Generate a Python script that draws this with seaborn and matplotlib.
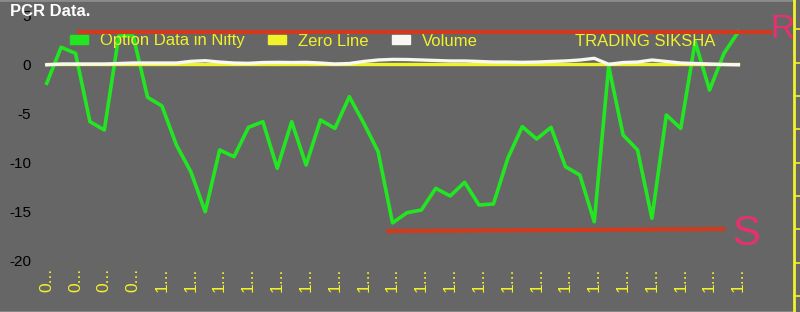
import numpy as np
import pandas as pd
import matplotlib
matplotlib.use("Agg")
import matplotlib.pyplot as plt
from matplotlib.patches import Patch
import seaborn as sns

# ---------------- data ----------------
pcr = [-1.94, 1.74, 1.12, -5.86, -6.71, 2.9, 2.9, -3.37, -4.26, -8.24,
       -10.97, -15.06, -8.75, -9.44, -6.44, -5.86, -10.62, -5.86, -10.29, -5.69,
       -6.54, -3.31, -6.0, -8.93, -16.2, -15.16, -14.88, -12.67, -13.45, -12.05,
       -14.37, -14.27, -9.6, -6.37, -7.63, -6.44, -10.46, -11.31, -16.08, -0.2,
       -7.22, -8.75, -15.73, -5.18, -6.54, 2.31, -2.63, 1.12, 3.33]
volume = [-0.05, 0.03, 0.03, 0.03, 0.03, 0.08, 0.13, 0.13, 0.13, 0.13,
          0.3, 0.37, 0.23, 0.13, 0.1, 0.18, 0.2, 0.18, 0.2, 0.13,
          0.03, 0.08, 0.29, 0.44, 0.5, 0.49, 0.44, 0.39, 0.34, 0.34,
          0.29, 0.23, 0.23, 0.2, 0.23, 0.29, 0.34, 0.44, 0.61, 0.0,
          0.18, 0.23, 0.44, 0.29, 0.13, 0.08, 0.03, -0.02, -0.05]
zero_line = [0.0] * len(pcr)
idx = list(range(len(pcr)))
tick_labels = ["0..."] * 4 + ["1..."] * 21
y_ticks = [5, 0, -5, -10, -15, -20]

# hand-drawn resistance / support levels
res_x = [2.1, 50.35]
res_y = [3.33, 3.33]
sup_x = [23.55, 47.1]
sup_y = [-17.03, -16.83]

df = pd.DataFrame({"idx": idx, "pcr": pcr, "volume": volume, "zero": zero_line})

# ---------------- style ----------------
BG = "#666666"
GREEN = "#22e622"
YELLOW = "#f2f22a"
WHITE = "#f8f8f2"
RED = "#d23a1e"
PINK = "#e8306e"

plt.rcParams["font.family"] = ["Liberation Sans", "DejaVu Sans"]

W, H = 800, 312
fig = plt.figure(figsize=(8, 3.12), dpi=100, facecolor=BG)
ax = fig.add_axes([0, 0, 794 / W, 1])
ax.set_facecolor(BG)

sns.lineplot(data=df, x="idx", y="pcr", ax=ax, color=GREEN, lw=2.6, zorder=3)
sns.lineplot(data=df, x="idx", y="zero", ax=ax, color=YELLOW, lw=2.4, zorder=4)
sns.lineplot(data=df, x="idx", y="volume", ax=ax, color=WHITE, lw=2.4, zorder=5)

ax.plot(res_x, res_y, color=RED, lw=3.0, zorder=7, solid_capstyle="butt")
ax.plot(sup_x, sup_y, color=RED, lw=3.0, zorder=7, solid_capstyle="butt")

# limits to place the data as in the reference
px_per_idx = 14.41
x0_px = 46.7
ax.set_xlim(-x0_px / px_per_idx, (794 - x0_px) / px_per_idx)
px_per_unit = 9.79
y0_px = 64.3
ax.set_ylim((y0_px - H) / px_per_unit, y0_px / px_per_unit)

ax.set_xlabel("")
ax.set_ylabel("")
ax.grid(False)

ax.set_xticks(idx[::2])
ax.set_xticklabels(tick_labels, rotation=90, color=YELLOW, fontsize=12.5)
ax.set_yticks(y_ticks)
ax.set_yticklabels([str(v) for v in y_ticks], color="black", fontsize=11)
ax.tick_params(axis="x", length=0, pad=-44 * 0.72)
ax.tick_params(axis="y", length=0, pad=-31 * 0.72)

for s in ["left", "right"]:
    ax.spines[s].set_visible(False)
ax.spines["top"].set_color("#8a8a8a")
ax.spines["top"].set_linewidth(2)
ax.spines["bottom"].set_color("#8a8a8a")
ax.spines["bottom"].set_linewidth(2)

# secondary axis spine (right)
ax2 = ax.twinx()
ax2.set_ylim(-0.48, 312 / 33.35 - 0.48)
ax2.set_yticks(range(0, 9))
ax2.set_yticklabels([""] * 9)
ax2.tick_params(axis="y", colors=YELLOW, length=6, width=1.2, direction="out")
for s in ["left", "top", "bottom"]:
    ax2.spines[s].set_visible(False)
ax2.spines["right"].set_color(YELLOW)
ax2.spines["right"].set_linewidth(2)

# legend
handles = [Patch(color=GREEN), Patch(color=YELLOW), Patch(color=WHITE)]
labels = ["Option Data in Nifty", "Zero Line", "Volume"]
leg = ax.legend(handles, labels, ncol=3, loc="center left",
                bbox_to_anchor=(70 / W, 1 - 41 / H), bbox_transform=fig.transFigure,
                frameon=False, fontsize=12, labelcolor=YELLOW,
                handlelength=1.1, handleheight=0.45, handletextpad=0.7,
                columnspacing=1.4, borderpad=0, borderaxespad=0)
leg.set_zorder(6)

fig.text(575 / W, 1 - 41 / H, "TRADING SIKSHA", color=YELLOW, fontsize=12,
         va="center", ha="left")
fig.text(10 / W, 1 - 12 / H, "PCR Data.", color="white", fontsize=12,
         fontweight="bold", va="center", ha="left")
fig.text(770 / W, 1 - 29 / H, "R", color=PINK, fontsize=24, va="center", ha="left")
fig.text(746 / W, 1 - 234 / H, "S", color=PINK, fontsize=30, va="center", ha="center")

fig.savefig("out.png", dpi=100, facecolor=BG)
